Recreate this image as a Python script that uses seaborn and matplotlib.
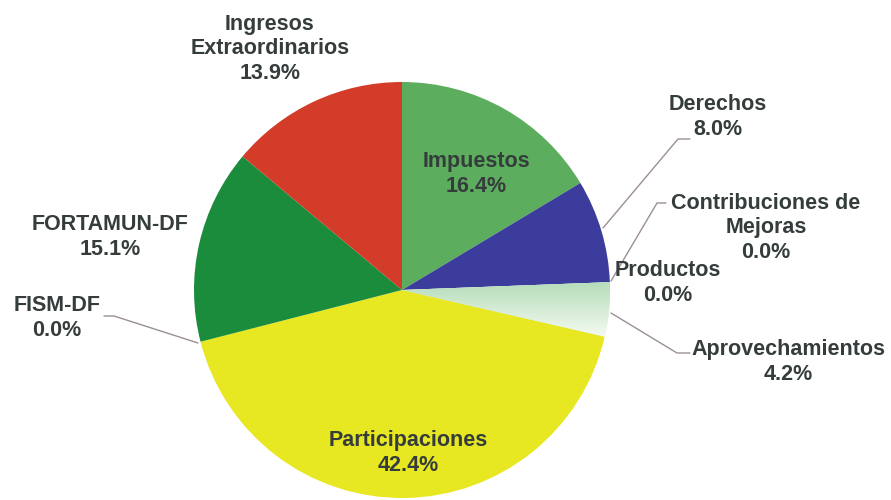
import numpy as np
import matplotlib
matplotlib.use("Agg")
import matplotlib.pyplot as plt
import seaborn as sns

# --- data (clockwise from 12 o'clock) ---
categories = ["Impuestos", "Derechos", "Contribuciones de\nMejoras", "Productos",
              "Aprovechamientos", "Participaciones", "FISM-DF", "FORTAMUN-DF",
              "Ingresos\nExtraordinarios"]
shares = [16.4, 8.0, 0.0, 0.0, 4.2, 42.4, 0.0, 15.1, 13.9]
colors = ["#5dad5e", "#3b3c9b", "#3b3c9b", "#3b3c9b", "#d4ead4",
          "#e7e722", "#1b8c3c", "#1b8c3c", "#d23c28"]

# label anchors in pixel space (x, y from top)
label_pos = [(476, 174), (718, 117), (766, 228), (668, 283), (788, 362),
             (408, 453), (57, 318), (110, 237), (270, 49)]

# leader lines (pixel space) for the outside labels
leaders = {
    "Derechos": [(603, 228), (678, 139), (690, 139)],
    "Contribuciones de\nMejoras": [(611, 281), (657, 203), (666, 203)],
    "Aprovechamientos": [(611, 313), (677, 353), (690, 353)],
    "FISM-DF": [(198, 343), (114, 316), (104, 316)],
}

W, H = 891, 500
sns.set_style("white")
plt.rcParams['font.family'] = ['Liberation Sans Narrow', 'Liberation Sans', 'DejaVu Sans']

fig = plt.figure(figsize=(W / 100, H / 100), dpi=100)
ax = fig.add_axes([0, 0, 1, 1])

cx, cy, r = 402, H - 290, 208
wedges, _ = ax.pie(shares, colors=colors, startangle=90, counterclock=False,
                   center=(cx, cy), radius=r,
                   wedgeprops=dict(linewidth=0))

# soft green-to-white fade on Aprovechamientos
grad = np.linspace(0, 1, 256).reshape(-1, 1)
top, bot = np.array([0.70, 0.86, 0.72]), np.array([1.0, 1.0, 0.98])
img = top + (bot - top) * grad[..., None]
im = ax.imshow(img, extent=(cx, cx + r, cy - 0.27 * r, cy + 0.05 * r),
               origin="upper", aspect="auto", zorder=wedges[4].get_zorder() + 0.1)
im.set_clip_path(wedges[4])

text_color = "#353c3c"
for cat, val, (px, py) in zip(categories, shares, label_pos):
    ax.text(px, H - py, f"{cat}\n{val:.1f}%", ha="center", va="center",
            fontsize=15.5, fontweight="bold", color=text_color, linespacing=1.2)

for pts in leaders.values():
    xs = [p[0] for p in pts]
    ys = [H - p[1] for p in pts]
    ax.plot(xs, ys, color="#9b8f95", lw=1.0)

ax.set_xlim(0, W)
ax.set_ylim(0, H)
ax.set_aspect("equal")
ax.axis("off")

fig.savefig("out.png", dpi=100, facecolor="white")
